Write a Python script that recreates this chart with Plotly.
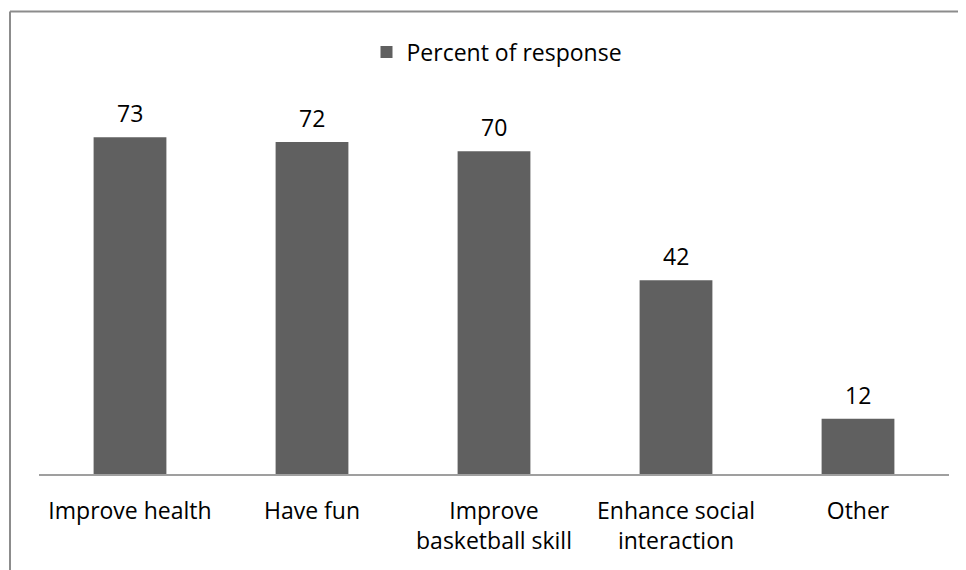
import plotly.graph_objects as go

categories = ["Improve health", "Have fun", "Improve<br>basketball skill",
              "Enhance social<br>interaction", "Other"]
values = [73, 72, 70, 42, 12]
series_name = "Percent of response"

# page body has an 8px offset; work in screen pixels then shift
OFF = 8
W, H = 966 - OFF, 570 - OFF
L, R, T, B = 39 - OFF, 17, 105 - OFF, 96
pw = W - L - R
ph = H - T - B

def px_x(p):
    return (p - OFF - L) / pw

def px_y(p):
    return (H - B - (p - OFF)) / ph

FONT = "Open Sans, Noto Sans, sans-serif"

fig = go.Figure()
fig.add_trace(go.Bar(
    x=categories, y=values, name=series_name,
    marker=dict(color="#606060", line=dict(width=0)),
    width=0.4, showlegend=True,
))
for c, v in zip(categories, values):
    fig.add_annotation(x=c, y=v, text=str(v), showarrow=False,
                       yanchor="bottom", yshift=6,
                       font=dict(size=23, color="#000000", family=FONT))

fig.update_layout(
    width=W, height=H,
    margin=dict(l=L, r=R, t=T, b=B),
    paper_bgcolor="white", plot_bgcolor="white",
    font=dict(family=FONT, size=23, color="#000000"),
    showlegend=True,
    legend=dict(orientation="h", x=px_x(497), xanchor="center", y=px_y(52), yanchor="middle",
                font=dict(size=23), bgcolor="rgba(0,0,0,0)", itemwidth=30),
    xaxis=dict(showline=True, linecolor="#9f9f9f", linewidth=2, ticks="",
               showgrid=False, tickfont=dict(size=23), ticklabelstandoff=15),
    yaxis=dict(range=[0, 80], showticklabels=False, showgrid=False, zeroline=False,
               showline=False, ticks=""),
)

# chart-area border (top and left edges visible)
fig.add_shape(type="line", xref="paper", yref="paper",
              x0=px_x(10), x1=px_x(980), y0=px_y(11.5), y1=px_y(11.5),
              line=dict(color="#8c8c8c", width=2))
fig.add_shape(type="line", xref="paper", yref="paper",
              x0=px_x(10), x1=px_x(10), y0=px_y(11.5), y1=px_y(580),
              line=dict(color="#8c8c8c", width=2))

fig.write_html("out.html")
